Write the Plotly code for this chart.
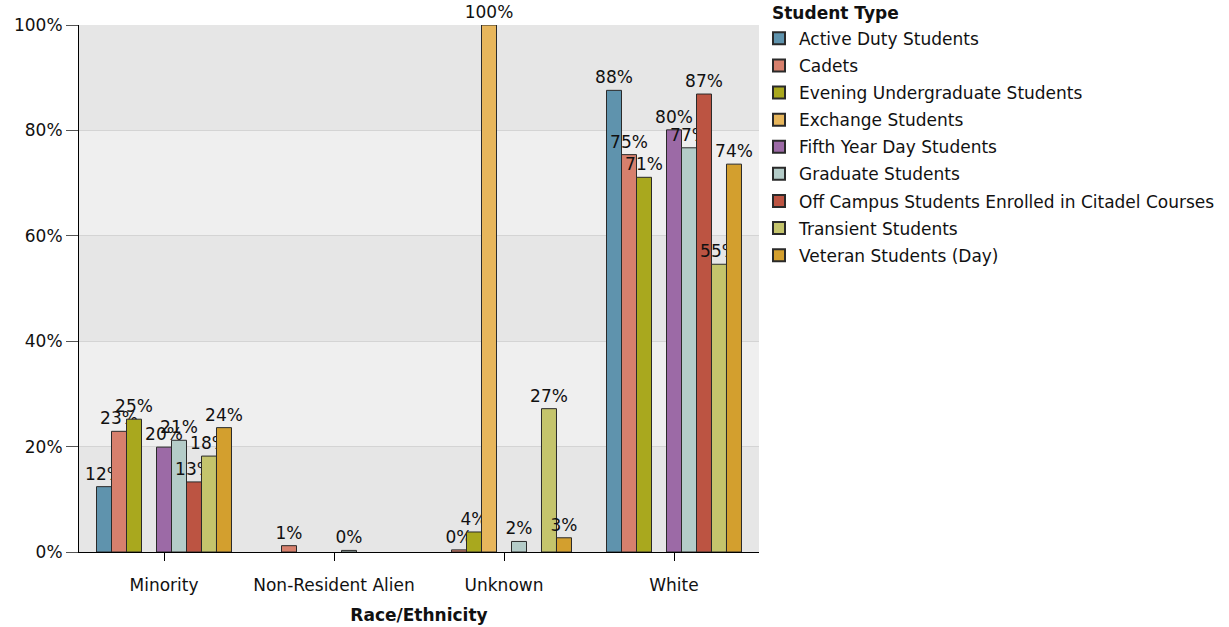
import plotly.graph_objects as go

categories = ["Minority", "Non-Resident Alien", "Unknown", "White"]
series_names = [
    "Active Duty Students",
    "Cadets",
    "Evening Undergraduate Students",
    "Exchange Students",
    "Fifth Year Day Students",
    "Graduate Students",
    "Off Campus Students Enrolled in Citadel Courses",
    "Transient Students",
    "Veteran Students (Day)",
]
active_duty = [12.4, None, None, 87.6]
cadets = [22.9, 1.2, 0.4, 75.4]
evening = [25.2, None, 3.8, 71.1]
exchange = [None, None, 100.0, None]
fifth_year = [19.9, None, None, 80.1]
graduate = [21.2, 0.3, 2.0, 76.7]
off_campus = [13.3, None, None, 86.9]
transient = [18.2, None, 27.2, 54.6]
veteran = [23.6, None, 2.7, 73.6]
series_values = [active_duty, cadets, evening, exchange, fifth_year,
                 graduate, off_campus, transient, veteran]
colors = ["#5f93ad", "#d7806d", "#a9a81e", "#e7b65c", "#9c6aa6",
          "#b4ccc8", "#bc5442", "#c4c46c", "#d39f2e"]
y_ticks = [0, 20, 40, 60, 80, 100]
y_tick_labels = ["0%", "20%", "40%", "60%", "80%", "100%"]

FONT = "DejaVu Sans"
FS = 17
fig = go.Figure()
for name, vals, col in zip(series_names, series_values, colors):
    fig.add_trace(go.Bar(
        name=name, x=categories, y=vals, legendgroup=name,
        marker=dict(color=col, line=dict(color="#2a2a2a", width=1)),
        text=[None if v is None else f"{round(v):.0f}%" for v in vals],
        textposition="outside", constraintext="none", cliponaxis=False,
        textfont=dict(family=FONT, size=FS, color="#111111"),
    ))

# alternating background bands
for i in range(5):
    fig.add_shape(type="rect", xref="paper", yref="y", x0=0, x1=1,
                  y0=i * 20, y1=(i + 1) * 20, layer="below", line_width=0,
                  fillcolor="#e6e6e6" if i % 2 == 0 else "#efefef")

fig.add_annotation(text="<b>Student Type</b>", xref="paper", yref="paper",
                   x=1.016, y=1.0228, xanchor="left", yanchor="middle",
                   showarrow=False, font=dict(family=FONT, size=FS, color="#111111"))

fig.update_layout(
    width=1229, height=627,
    margin=dict(l=79, r=470, t=25, b=75, autoexpand=False),
    paper_bgcolor="white", plot_bgcolor="white",
    barmode="group", bargap=0.206, bargroupgap=0,
    font=dict(family=FONT, size=FS, color="#111111"),
    legend=dict(
        x=1.0, y=1.008, xanchor="left", yanchor="top",
        font=dict(family=FONT, size=FS), bgcolor="rgba(0,0,0,0)",
        tracegroupgap=2, itemsizing="constant", itemwidth=30,
    ),
    xaxis=dict(
        title=dict(text="<b>Race/Ethnicity</b>", font=dict(family=FONT, size=FS), standoff=14),
        showline=True, linecolor="black", linewidth=1,
        ticks="outside", ticklen=8, tickcolor="black", ticklabelstandoff=10,
        tickfont=dict(family=FONT, size=FS), automargin=False,
    ),
    yaxis=dict(
        range=[0, 100], tickvals=y_ticks, ticktext=y_tick_labels,
        showline=True, linecolor="black", linewidth=1,
        ticks="outside", ticklen=12, tickcolor="#555555",
        showgrid=True, gridcolor="#d4d4d4", zeroline=False,
        tickfont=dict(family=FONT, size=FS), automargin=False,
    ),
)

fig.write_html("out.html", config={"displayModeBar": False},
               post_script="document.body.style.margin='0';")
